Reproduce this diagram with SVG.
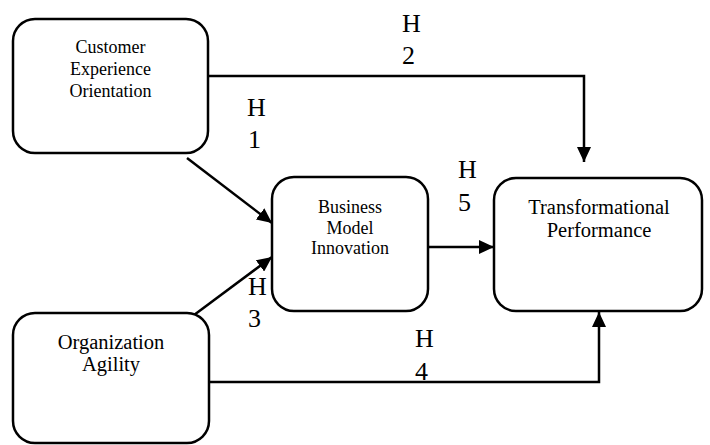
<svg xmlns="http://www.w3.org/2000/svg" width="710" height="445" viewBox="0 0 710 445">
  <style>
    .box { fill: #ffffff; stroke: #000000; stroke-width: 2.5; }
    .wire { fill: none; stroke: #000000; stroke-width: 2.5; stroke-linejoin: miter; }
    .lbl { font-family: "Liberation Serif", "Times New Roman", serif; fill: #000000; text-anchor: middle; }
    .small { font-size: 18px; }
    .big { font-size: 20.5px; }
    .hyp { font-family: "Liberation Serif", "Times New Roman", serif; font-size: 26px; fill: #000000; }
  </style>
  <defs>
    <marker id="arrow" markerUnits="userSpaceOnUse" markerWidth="15" markerHeight="14" refX="15" refY="7" orient="auto">
      <path d="M0,0 L15,7 L0,14 Z" fill="#000000"/>
    </marker>
  </defs>
  <rect width="710" height="445" fill="#ffffff"/>

  <g id="connectors">
    <path id="h2" class="wire" d="M208,76 L584,76 L584,162" marker-end="url(#arrow)"/>
    <path id="h1" class="wire" d="M187,158 L272,223" marker-end="url(#arrow)"/>
    <path id="h3" class="wire" d="M190,318 L272,257" marker-end="url(#arrow)"/>
    <path id="h5" class="wire" d="M428,247 L494,247" marker-end="url(#arrow)"/>
    <path id="h4" class="wire" d="M209,382 L599,382 L599,312" marker-end="url(#arrow)"/>
  </g>

  <g id="node-ceo">
    <rect class="box" x="13" y="19" width="195" height="134" rx="22"/>
    <text class="lbl small" x="110.5" y="53">Customer</text>
    <text class="lbl small" x="110.5" y="75">Experience</text>
    <text class="lbl small" x="110.5" y="97">Orientation</text>
  </g>

  <g id="node-bmi">
    <rect class="box" x="272" y="177" width="156" height="134" rx="22"/>
    <text class="lbl small" x="350" y="213">Business</text>
    <text class="lbl small" x="350" y="233.5">Model</text>
    <text class="lbl small" x="350" y="254">Innovation</text>
  </g>

  <g id="node-tp">
    <rect class="box" x="494" y="178" width="208" height="133" rx="22"/>
    <text class="lbl big" x="599" y="214">Transformational</text>
    <text class="lbl big" x="599" y="237">Performance</text>
  </g>

  <g id="node-oa">
    <rect class="box" x="13" y="313" width="196" height="130" rx="22"/>
    <text class="lbl big" x="111" y="349">Organization</text>
    <text class="lbl big" x="111" y="371">Agility</text>
  </g>

  <g id="hypotheses">
    <text class="hyp" x="402" y="32">H</text>
    <text class="hyp" x="402" y="64">2</text>
    <text class="hyp" x="247" y="116">H</text>
    <text class="hyp" x="248" y="148">1</text>
    <text class="hyp" x="458" y="178">H</text>
    <text class="hyp" x="458" y="211">5</text>
    <text class="hyp" x="248" y="295">H</text>
    <text class="hyp" x="248" y="327">3</text>
    <text class="hyp" x="415" y="347">H</text>
    <text class="hyp" x="415" y="380">4</text>
  </g>
</svg>
